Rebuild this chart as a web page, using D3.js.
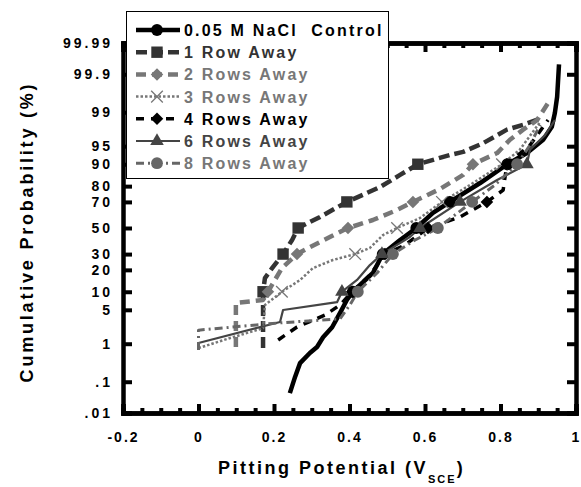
<!DOCTYPE html>
<meta charset="utf-8">
<script src="https://d3js.org/d3.v7.min.js"></script>
<style>
body { margin: 0; background: #fff; }
text { font-family: "Liberation Sans", Arial, sans-serif; font-weight: bold; }
</style>
<div id="my_dataviz"></div>
<script>
  // series: [pitting potential (V SCE), cumulative probability (%)]
  var control = [[0.242,0.045],[0.256,0.14],[0.269,0.33],[0.295,0.6],[0.314,0.84],[0.330,1.4],[0.354,2.3],
    [0.375,4.4],[0.393,7.4],[0.409,10],[0.462,18.3],[0.488,30],[0.534,40.5],[0.577,50],[0.621,61.9],
    [0.666,70],[0.746,81.7],[0.818,90],[0.870,93.4],[0.913,96.2],[0.936,97.9],[0.944,98.96],[0.950,99.58],[0.955,99.95]];
  var row1 = [[0.171,0.79],[0.171,10],[0.176,15.7],[0.197,21.6],[0.224,30],[0.248,40.5],[0.264,50],[0.322,58.8],
    [0.393,70],[0.446,75.9],[0.481,79.5],[0.534,85.7],[0.581,90],[0.666,92.9],[0.701,93.7],[0.754,95.6],
    [0.817,97.6],[0.860,98.1],[0.905,98.6]];
  var rows2 = [[0.099,0.84],[0.099,6.6],[0.171,7.4],[0.184,10],[0.221,21],[0.261,30],[0.295,35],[0.348,42.8],
    [0.396,50],[0.462,56.4],[0.526,64.1],[0.568,70],[0.640,78.4],[0.701,85.7],[0.727,90],[0.791,93.4],
    [0.825,96.2],[0.860,97.6],[0.897,98.5],[0.926,99.4]];
  var rows3 = [[0.0,0.79],[0.084,1.35],[0.171,2.2],[0.176,6.1],[0.221,10],[0.269,14.8],[0.303,21],[0.356,26],
    [0.415,30],[0.454,34.4],[0.489,44.4],[0.526,50],[0.587,58],[0.645,70],[0.719,80.6],[0.804,90],
    [0.851,94.2],[0.904,98.3]];
  var rows4 = [[0.211,1.22],[0.261,2.33],[0.335,4.0],[0.375,6.1],[0.407,10],[0.454,17.2],[0.494,30],[0.547,36.6],
    [0.608,50],[0.693,58.8],[0.764,70],[0.807,77.7],[0.817,90],[0.878,95.2],[0.926,98.5]];
  var rows6 = [[0.0,1.04],[0.216,2.94],[0.224,4.96],[0.367,6.8],[0.380,10],[0.393,11.4],[0.420,14.8],[0.454,22.8],
    [0.486,30],[0.560,42.8],[0.587,50],[0.693,70],[0.791,83.3],[0.870,90],[0.878,94.2],[0.918,96.9],[0.944,98.5]];
  var rows8 = [[0.0,0.71],[0.0,2.0],[0.208,2.8],[0.375,3.4],[0.401,6.1],[0.422,10],[0.473,18.3],[0.515,30],
    [0.574,40.5],[0.634,50],[0.725,70],[0.785,80.6],[0.844,90],[0.878,95.2],[0.905,98.1]];

  var seriesNames = ["0.05 M NaCl  Control", "1 Row Away", "2 Rows Away", "3 Rows Away", "4 Rows Away", "6 Rows Away", "8 Rows Away"];
  var seriesData = [control, row1, rows2, rows3, rows4, rows6, rows8];
  var markerLevels = [10, 30, 50, 70, 90];

  var yTicks = [0.01, 0.1, 1, 5, 10, 20, 30, 50, 70, 80, 90, 95, 99, 99.9, 99.99];
  var yTickLabels = [".01", ".1", "1", "5", "10", "20", "30", "50", "70", "80", "90", "95", "99", "99.9", "99.99"];
  var xTicks = [-0.2, 0, 0.2, 0.4, 0.6, 0.8, 1];
  var xTickLabels = ["-0.2", "0", "0.2", "0.4", "0.6", "0.8", "1"];

  // styles for each series
  var styles = [
    {color: "#000", width: 4.5, dash: null, sym: d3.symbolCircle, size: 110},
    {color: "#333", width: 4.5, dash: "11,5", sym: d3.symbolSquare, size: 130},
    {color: "#777", width: 4.5, dash: "10,6", sym: d3.symbolDiamond2 || d3.symbolDiamond, size: 100},
    {color: "#777", width: 2.5, dash: "2.5,2", sym: d3.symbolX || d3.symbolCross, size: 90, stroke: true},
    {color: "#000", width: 3.5, dash: "8,7", sym: d3.symbolDiamond2 || d3.symbolDiamond, size: 100},
    {color: "#444", width: 2.2, dash: null, sym: d3.symbolTriangle, size: 80},
    {color: "#666", width: 3, dash: "8,4,2,4", sym: d3.symbolCircle, size: 110}
  ];

  // inverse normal cdf (probability paper)
  function probit(p) {
    var a = [-39.69683028665376, 220.9460984245205, -275.9285104469687, 138.3577518672690, -30.66479806614716, 2.506628277459239];
    var b = [-54.47609879822406, 161.5858368580409, -155.6989798598866, 66.80131188771972, -13.28068155288572];
    var c = [-0.007784894002430293, -0.3223964580411365, -2.400758277161838, -2.549732539343734, 4.374664141464968, 2.938163982698783];
    var d = [0.007784695709041462, 0.3224671290700398, 2.445134137142996, 3.754408661907416];
    var q, r;
    if (p < 0.02425) {
      q = Math.sqrt(-2 * Math.log(p));
      return (((((c[0]*q+c[1])*q+c[2])*q+c[3])*q+c[4])*q+c[5]) / ((((d[0]*q+d[1])*q+d[2])*q+d[3])*q+1);
    }
    if (p > 1 - 0.02425) {
      q = Math.sqrt(-2 * Math.log(1 - p));
      return -(((((c[0]*q+c[1])*q+c[2])*q+c[3])*q+c[4])*q+c[5]) / ((((d[0]*q+d[1])*q+d[2])*q+d[3])*q+1);
    }
    q = p - 0.5; r = q * q;
    return (((((a[0]*r+a[1])*r+a[2])*r+a[3])*r+a[4])*r+a[5])*q / (((((b[0]*r+b[1])*r+b[2])*r+b[3])*r+b[4])*r+1);
  }
  function pz(pct) { return probit(pct / 100); }

  var margin = {top: 43, right: 5, bottom: 74, left: 123},
      width = 581 - margin.left - margin.right,
      height = 487 - margin.top - margin.bottom;

  var svgRoot = d3.select("#my_dataviz")
    .append("svg")
      .attr("width", 581)
      .attr("height", 487);
  var svg = svgRoot.append("g")
      .attr("transform", "translate(" + margin.left + "," + margin.top + ")");

  var x = d3.scaleLinear().domain([-0.2, 1]).range([0, width]);
  var y = d3.scaleLinear().domain([pz(0.01), pz(99.99)]).range([height, 0]);

  var minorX = d3.range(-0.15, 1, 0.05).filter(function(v) { return Math.abs(v * 5 - Math.round(v * 5)) > 0.01; });

  // bottom axis
  svg.append("g")
    .attr("class", "xaxis")
    .attr("transform", "translate(0," + height + ")")
    .call(d3.axisBottom(x).tickValues(xTicks).tickSize(-9).tickPadding(19)
      .tickFormat(function(d, i) { return xTickLabels[i]; }));
  svg.append("g")
    .attr("transform", "translate(0," + height + ")")
    .call(d3.axisBottom(x).tickValues(minorX).tickSize(-5).tickFormat(""));
  // top axis
  svg.append("g")
    .call(d3.axisTop(x).tickValues(xTicks).tickSize(-9).tickFormat(""));
  svg.append("g")
    .call(d3.axisTop(x).tickValues(minorX).tickSize(-5).tickFormat(""));
  // left axis
  var yVals = yTicks.map(pz);
  svg.append("g")
    .attr("class", "yaxis")
    .call(d3.axisLeft(y).tickValues(yVals).tickSize(-9).tickPadding(10)
      .tickFormat(function(d, i) { return yTickLabels[i]; }));
  // right axis
  svg.append("g")
    .attr("transform", "translate(" + width + ",0)")
    .call(d3.axisRight(y).tickValues(yVals).tickSize(-9).tickFormat(""));

  svg.selectAll(".domain").attr("stroke", "#000").attr("stroke-width", 4.5);
  svg.selectAll(".tick line").attr("stroke", "#000").attr("stroke-width", 4);
  svg.selectAll(".tick text")
    .attr("fill", "#000")
    .style("font-size", "14px");
  svg.selectAll(".xaxis .tick text").style("letter-spacing", "2px");
  svg.selectAll(".yaxis .tick text").style("letter-spacing", "3px");

  // lines
  var line = d3.line()
    .x(function(d) { return x(d[0]); })
    .y(function(d) { return y(pz(d[1])); });

  seriesData.forEach(function(data, i) {
    var s = styles[i];
    svg.append("path")
      .datum(data)
      .attr("fill", "none")
      .attr("stroke", s.color)
      .attr("stroke-width", s.width)
      .attr("stroke-dasharray", s.dash)
      .attr("stroke-linejoin", "round")
      .attr("d", line);
  });
  seriesData.forEach(function(data, i) {
    var s = styles[i];
    svg.append("g")
      .selectAll("path")
      .data(data.filter(function(d) { return markerLevels.indexOf(d[1]) >= 0; }))
      .enter()
      .append("path")
        .attr("transform", function(d) { return "translate(" + x(d[0]) + "," + y(pz(d[1])) + ")"; })
        .attr("d", d3.symbol().type(s.sym).size(s.size))
        .attr("fill", s.stroke ? "none" : s.color)
        .attr("stroke", s.stroke ? s.color : "none")
        .attr("stroke-width", 1.3);
  });

  // legend
  var legend = svgRoot.append("g");
  legend.append("rect")
    .attr("x", 126.5).attr("y", 11.5).attr("width", 262).attr("height", 167)
    .attr("fill", "#fff").attr("stroke", "#000").attr("stroke-width", 1);
  var legendTextColors = ["#000", "#333", "#777", "#777", "#000", "#444", "#777"];
  seriesNames.forEach(function(name, i) {
    var s = styles[i];
    var ly = 30 + i * 22.2;
    legend.append("line")
      .attr("x1", 136).attr("x2", 180).attr("y1", ly).attr("y2", ly)
      .attr("stroke", s.color).attr("stroke-width", s.width)
      .attr("stroke-dasharray", s.dash);
    legend.append("path")
      .attr("transform", "translate(157," + ly + ")")
      .attr("d", d3.symbol().type(s.sym).size(s.size))
      .attr("fill", s.stroke ? "none" : s.color)
      .attr("stroke", s.stroke ? s.color : "none")
      .attr("stroke-width", 1.3);
    legend.append("text")
      .attr("x", 184).attr("y", ly + 6)
      .attr("fill", legendTextColors[i])
      .style("font-size", "16px")
      .style("letter-spacing", "2.2px")
      .style("white-space", "pre")
      .text(name);
  });

  // axis titles
  svgRoot.append("text")
    .attr("transform", "translate(33,232) rotate(-90)")
    .attr("text-anchor", "middle")
    .style("font-size", "18px")
    .style("letter-spacing", "2.8px")
    .text("Cumulative Probability (%)");
  var xt = svgRoot.append("text")
    .attr("x", 218).attr("y", 474)
    .style("font-size", "18px")
    .style("letter-spacing", "2.5px");
  xt.append("tspan").text("Pitting Potential (V");
  xt.append("tspan").attr("dy", 9).style("font-size", "11px").style("letter-spacing", "2px").text("SCE");
  xt.append("tspan").attr("dy", -9).text(")");
</script>
